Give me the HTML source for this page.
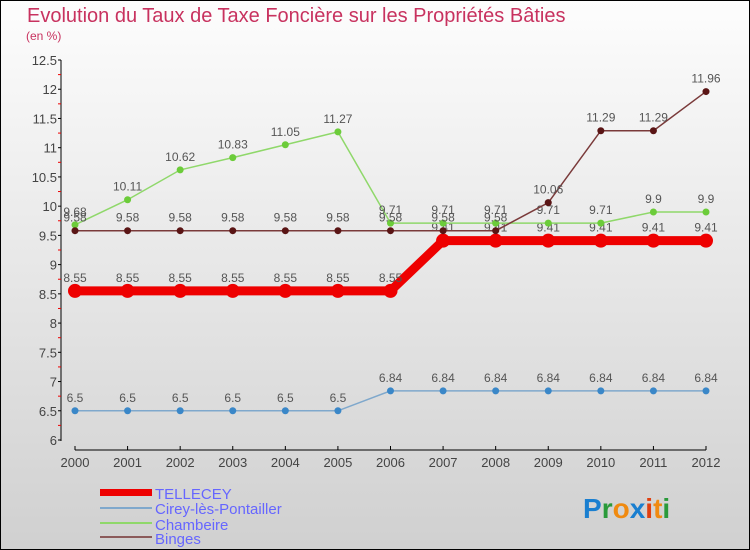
<!DOCTYPE html>
<html><head><meta charset="utf-8"><style>
body{margin:0;width:750px;height:550px;overflow:hidden}
#c{position:absolute;left:0;top:0;width:748px;height:548px;border:1px solid #000;background:linear-gradient(#fdfdfd,#d0d0d0)}
text{font-family:"Liberation Sans",sans-serif}
</style></head><body>
<div id="c">
<svg id="s" width="750" height="550" style="position:absolute;left:-1px;top:-1px">
<text x="27" y="22" font-size="20" fill="#c8325f">Evolution du Taux de Taxe Foncière sur les Propriétés Bâties</text>
<text x="26" y="40" font-size="12" fill="#c8325f">(en %)</text>
<g id="axes"></g><g id="series"></g>
<g>
<rect x="100" y="489" width="52" height="7" fill="#e00"/>
<text x="155" y="499" font-size="15" fill="#66f">TELLECEY</text>
<rect x="100" y="507" width="52" height="2" fill="#7fa8cc"/>
<text x="155" y="514" font-size="15" fill="#66f">Cirey-lès-Pontailler</text>
<rect x="100" y="522" width="52" height="2" fill="#8fd86a"/>
<text x="155" y="530" font-size="15" fill="#66f">Chambeire</text>
<rect x="100" y="536" width="52" height="2" fill="#8b5a5a"/>
<text x="155" y="544" font-size="15" fill="#66f">Binges</text>
</g>
<text x="583" y="518" font-size="28" font-weight="bold"><tspan fill="#1a7fd0">P</tspan><tspan fill="#2a9a3a">r</tspan><tspan fill="#f08a10">o</tspan><tspan fill="#1a7fd0">x</tspan><tspan fill="#e04010">i</tspan><tspan fill="#f08a10">t</tspan><tspan fill="#2a9a3a">i</tspan></text>
</svg></div>
<script>
const years=[2000,2001,2002,2003,2004,2005,2006,2007,2008,2009,2010,2011,2012];
const yTicks=[6,6.5,7,7.5,8,8.5,9,9.5,10,10.5,11,11.5,12,12.5];
const binges=[9.58,9.58,9.58,9.58,9.58,9.58,9.58,9.58,9.58,10.06,11.29,11.29,11.96];
const chambeire=[9.68,10.11,10.62,10.83,11.05,11.27,9.71,9.71,9.71,9.71,9.71,9.9,9.9];
const tellecey=[8.55,8.55,8.55,8.55,8.55,8.55,8.55,9.41,9.41,9.41,9.41,9.41,9.41];
const cirey=[6.5,6.5,6.5,6.5,6.5,6.5,6.84,6.84,6.84,6.84,6.84,6.84,6.84];
const NS="http://www.w3.org/2000/svg";
const X=i=>75+i*(706-75)/12;
const Y=v=>440-(v-6)*(380/6.5);
function mk(t,a,p){const e=document.createElementNS(NS,t);for(const k in a)e.setAttribute(k,a[k]);p.appendChild(e);return e;}
const ax=document.getElementById('axes');
let e=mk('line',{x1:61,y1:60,x2:61,y2:441,stroke:'#000','stroke-width':1},ax);


e=mk('line',{x1:75,y1:450,x2:706,y2:450,stroke:'#000','stroke-width':1},ax);


yTicks.forEach(v=>{mk('line',{x1:58,y1:Y(v),x2:61,y2:Y(v),stroke:'#000'},ax);
 if(v<12.5)mk('line',{x1:58,y1:Y(v+0.25),x2:61,y2:Y(v+0.25),stroke:'#e00'},ax);
 const t=mk('text',{x:57,y:Y(v)+5,'font-size':13,'text-anchor':'end',fill:'#444'},ax);t.textContent=v;
 
 });
years.forEach((y,i)=>{mk('line',{x1:X(i),y1:446,x2:X(i),y2:450,stroke:'#000'},ax);
 const t=mk('text',{x:X(i),y:467,'font-size':13,'text-anchor':'middle',fill:'#444'},ax);t.textContent=y;
 
 });
const sg=document.getElementById('series');
function series(name,vals,col,w,r,dot){
 const g=mk('g',{},sg);
 
 
 mk('polyline',{points:vals.map((v,i)=>X(i)+','+Y(v)).join(' '),fill:'none',stroke:col,'stroke-width':w},g);
 vals.forEach((v,i)=>{const c=mk('circle',{cx:X(i),cy:Y(v),r:r,fill:dot},g);
  
  
  const t=mk('text',{x:X(i),y:Y(v)-9,'font-size':12,'text-anchor':'middle',fill:'#555'},g);t.textContent=v;
  
  });
}
series('cirey',cirey,'#7fa8cc',1.5,3.5,'#3a87c8');
series('tellecey',tellecey,'#e00',9,7,'#e00');
series('chambeire',chambeire,'#8fd86a',1.5,3.5,'#6ccc3a');
series('binges',binges,'#7a3a3a',1.5,3.5,'#5a1515');
</script>
</body></html>
